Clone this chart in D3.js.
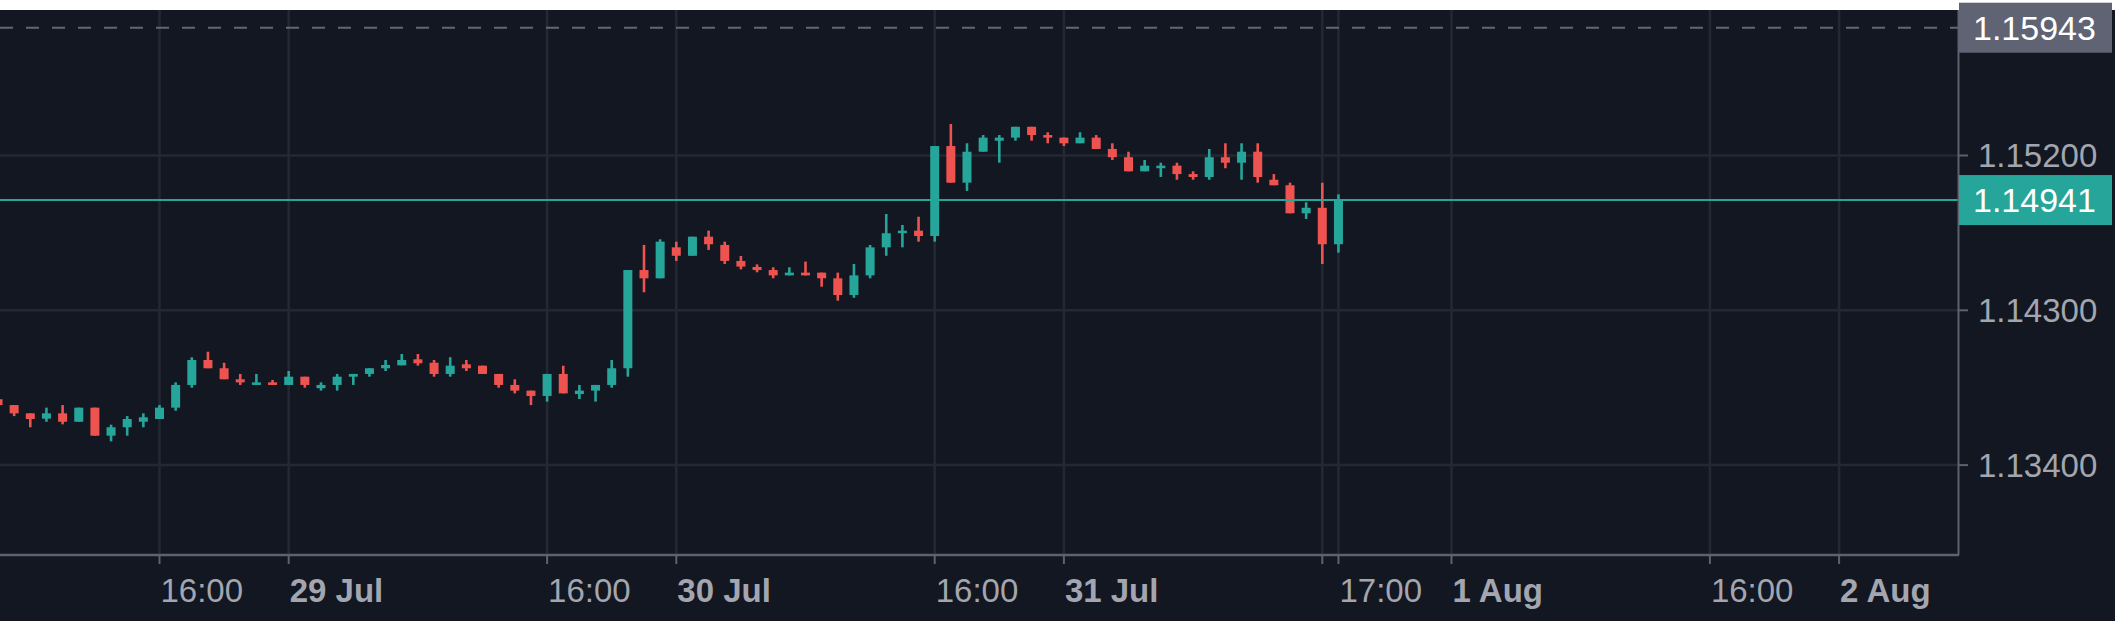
<!DOCTYPE html>
<html><head><meta charset="utf-8">
<script src="https://cdn.jsdelivr.net/npm/d3@7"></script>
<style>html,body{margin:0;padding:0;background:#ffffff;overflow:hidden}</style>
</head><body><svg id="c" width="2115" height="621"></svg>
<script>
// ---- data: EUR-like hourly candles, 28 Jul 06:00 -> 31 Jul 17:00 ----
const startTime = "2021-07-28T06:00";
const open = [
1.13783,1.13749,1.13701,1.13670,1.13701,1.13652,1.13734,1.13571,1.13620,1.13652,1.13668,1.13734,1.13866,1.14011,1.13963,1.13899,1.13866,1.13881,
1.13866,1.13914,1.13847,1.13866,1.13914,1.13930,1.13963,1.13980,1.14015,1.13995,1.13930,1.13986,1.13978,1.13930,1.13866,1.13833,1.13802,1.13930,1.13813,1.13833,1.13866,1.13963,1.14534,1.14486,
1.14666,1.14617,1.14728,1.14680,1.14587,1.14552,1.14534,1.14503,1.14519,1.14519,1.14486,1.14389,1.14503,1.14666,1.14748,1.14763,1.14732,1.15255,1.15042,1.15222,1.15286,1.15304,1.15367,1.15319,
1.15304,1.15271,1.15304,1.15238,1.15190,1.15108,1.15126,1.15141,1.15092,1.15075,1.15190,1.15158,1.15222,1.15059,1.15027,1.14864,1.14896,1.14684];
const high = [
1.13787,1.13749,1.13701,1.13734,1.13749,1.13734,1.13734,1.13635,1.13685,1.13701,1.13749,1.13881,1.14027,1.14059,1.13995,1.13930,1.13930,1.13895,
1.13947,1.13914,1.13881,1.13930,1.13930,1.13963,1.14011,1.14046,1.14046,1.14011,1.14027,1.14011,1.13978,1.13930,1.13899,1.13833,1.13930,1.13978,1.13866,1.13866,1.14011,1.14534,1.14680,1.14713,
1.14699,1.14728,1.14763,1.14699,1.14616,1.14567,1.14550,1.14550,1.14583,1.14519,1.14519,1.14569,1.14680,1.14860,1.14796,1.14844,1.15255,1.15383,1.15271,1.15319,1.15319,1.15367,1.15367,1.15335,
1.15304,1.15335,1.15319,1.15271,1.15222,1.15174,1.15158,1.15158,1.15108,1.15238,1.15271,1.15271,1.15271,1.15092,1.15042,1.14928,1.15042,1.14974];
const low = [
1.13744,1.13685,1.13620,1.13652,1.13637,1.13652,1.13571,1.13538,1.13571,1.13620,1.13668,1.13716,1.13850,1.13963,1.13899,1.13866,1.13866,1.13866,
1.13866,1.13850,1.13833,1.13833,1.13866,1.13914,1.13947,1.13980,1.13978,1.13914,1.13914,1.13947,1.13930,1.13850,1.13817,1.13749,1.13769,1.13817,1.13784,1.13769,1.13850,1.13914,1.14405,1.14486,
1.14587,1.14617,1.14651,1.14569,1.14538,1.14521,1.14486,1.14503,1.14503,1.14437,1.14356,1.14373,1.14486,1.14617,1.14666,1.14699,1.14699,1.15042,1.14994,1.15222,1.15158,1.15286,1.15286,1.15271,
1.15255,1.15271,1.15238,1.15174,1.15108,1.15108,1.15075,1.15059,1.15059,1.15059,1.15126,1.15059,1.15042,1.15027,1.14864,1.14831,1.14569,1.14635];
const close = [
1.13749,1.13701,1.13668,1.13701,1.13652,1.13734,1.13571,1.13620,1.13668,1.13678,1.13734,1.13866,1.14011,1.13963,1.13899,1.13881,1.13881,1.13866,
1.13914,1.13866,1.13866,1.13914,1.13930,1.13963,1.13982,1.14011,1.13992,1.13930,1.13978,1.13963,1.13930,1.13866,1.13833,1.13802,1.13930,1.13817,1.13833,1.13866,1.13963,1.14534,1.14486,1.14699,
1.14617,1.14728,1.14684,1.14587,1.14554,1.14534,1.14503,1.14519,1.14503,1.14486,1.14389,1.14503,1.14666,1.14748,1.14763,1.14732,1.15255,1.15042,1.15222,1.15304,1.15304,1.15367,1.15319,1.15304,
1.15271,1.15304,1.15238,1.15190,1.15108,1.15141,1.15141,1.15092,1.15075,1.15190,1.15158,1.15222,1.15075,1.15027,1.14864,1.14896,1.14684,1.14941];

const timeTicks = ["2021-07-28T16:00","2021-07-29T00:00","2021-07-29T16:00","2021-07-30T00:00","2021-07-30T16:00","2021-07-31T00:00","2021-07-31T16:00","2021-07-31T17:00","2021-08-01T00:00","2021-08-01T16:00","2021-08-02T00:00"];
const timeLabels = ["16:00","29 Jul","16:00","30 Jul","16:00","31 Jul","","17:00","1 Aug","16:00","2 Aug"];
const timeLabelBold = [false,true,false,true,false,true,false,false,true,false,true];
const priceTicks = [1.134, 1.143, 1.152];
const priceTickLabels = ["1.13400","1.14300","1.15200"];
const markPrice = 1.15943;
const markLabel = "1.15943";
const lastLabel = "1.14941";

// ---- layout ----
const W = 2115, H = 621;
const plotL = 0, plotR = 1958, plotT = 10, plotB = 555;
const parse = d3.timeParse("%Y-%m-%dT%H:%M");
const t0 = parse(startTime);
const times = open.map((_, i) => d3.timeHour.offset(t0, i));
const candles = times.map((t, i) => ({t, o: open[i], h: high[i], l: low[i], c: close[i]}));

const x = d3.scaleTime()
  .domain([parse("2021-07-29T00:00"), parse("2021-08-02T00:00")])
  .range([288.7, 1839.1]);
const y = d3.scaleLinear().domain([1.143, 1.152]).range([310.3, 155.5]);

const UP = "#26a69a", DOWN = "#ef5350", BG = "#131722", GRID = "#242832", AXIS = "#5d6170", TXT = "#a3a6af";
const FONT = "'Liberation Sans', Arial, sans-serif";

const svg = d3.select("#c");
svg.append("rect").attr("width", W).attr("height", H).attr("fill", BG);
svg.append("rect").attr("width", W).attr("height", plotT).attr("fill", "#ffffff");

const clip = svg.append("defs").append("clipPath").attr("id", "plotclip");
clip.append("rect").attr("x", plotL).attr("y", plotT).attr("width", plotR - plotL).attr("height", plotB - plotT);

const plot = svg.append("g").attr("clip-path", "url(#plotclip)");

// grid
plot.selectAll(".hg").data(priceTicks).join("line")
  .attr("x1", plotL).attr("x2", plotR)
  .attr("y1", d => y(d)).attr("y2", d => y(d))
  .attr("stroke", GRID).attr("stroke-width", 2.5);
plot.selectAll(".vg").data(timeTicks.map(parse)).join("line")
  .attr("x1", d => x(d)).attr("x2", d => x(d))
  .attr("y1", plotT).attr("y2", plotB)
  .attr("stroke", GRID).attr("stroke-width", 2.5);

// dashed mark line
plot.append("line")
  .attr("x1", plotL).attr("x2", plotR)
  .attr("y1", y(markPrice)).attr("y2", y(markPrice))
  .attr("stroke", "#636775").attr("stroke-width", 2).attr("stroke-dasharray", "13,13");

// candles
const bw = 9;
const cg = plot.selectAll(".cd").data(candles).join("g");
cg.append("line")
  .attr("x1", d => x(d.t)).attr("x2", d => x(d.t))
  .attr("y1", d => y(d.h)).attr("y2", d => y(d.l))
  .attr("stroke", d => d.c >= d.o ? UP : DOWN).attr("stroke-width", 2.6);
cg.append("rect")
  .attr("x", d => x(d.t) - bw / 2)
  .attr("y", d => y(Math.max(d.o, d.c)))
  .attr("width", bw)
  .attr("height", d => Math.max(2.5, Math.abs(y(d.o) - y(d.c))))
  .attr("fill", d => d.c >= d.o ? UP : DOWN);

// last price line
const lastClose = close[close.length - 1];
plot.append("line")
  .attr("x1", plotL).attr("x2", plotR)
  .attr("y1", y(lastClose)).attr("y2", y(lastClose))
  .attr("stroke", UP).attr("stroke-width", 2);

// axes frame
svg.append("line").attr("x1", 0).attr("x2", plotR + 1).attr("y1", plotB).attr("y2", plotB)
  .attr("stroke", AXIS).attr("stroke-width", 2.5);
svg.append("line").attr("x1", plotR + 0.5).attr("x2", plotR + 0.5).attr("y1", plotT).attr("y2", plotB)
  .attr("stroke", AXIS).attr("stroke-width", 2);

// time axis ticks + labels
const tt = svg.selectAll(".tt").data(timeTicks.map((s, i) => ({t: parse(s), lab: timeLabels[i], b: timeLabelBold[i]}))).join("g");
tt.append("line").attr("x1", d => x(d.t)).attr("x2", d => x(d.t)).attr("y1", plotB).attr("y2", plotB + 9)
  .attr("stroke", AXIS).attr("stroke-width", 2);
tt.append("text").attr("x", d => x(d.t) + 1).attr("y", 602)
  .attr("font-family", FONT).attr("font-size", 33)
  .attr("font-weight", d => d.b ? "bold" : "normal")
  .attr("fill", TXT).text(d => d.lab);

// price axis ticks + labels
const pt = svg.selectAll(".pt").data(priceTicks.map((p, i) => ({p, lab: priceTickLabels[i]}))).join("g");
pt.append("line").attr("x1", plotR + 1).attr("x2", plotR + 10).attr("y1", d => y(d.p)).attr("y2", d => y(d.p))
  .attr("stroke", AXIS).attr("stroke-width", 2);
pt.append("text").attr("x", 1978).attr("y", d => y(d.p)).attr("dy", "0.36em")
  .attr("font-family", FONT).attr("font-size", 33).attr("fill", TXT).text(d => d.lab);

// price label boxes
function priceBox(p, lab, fill) {
  const yc = y(p);
  svg.append("rect").attr("x", plotR + 1).attr("y", yc - 25).attr("width", 2112 - plotR - 1).attr("height", 50).attr("fill", fill);
  svg.append("text").attr("x", 1973).attr("y", yc).attr("dy", "0.36em")
    .attr("font-family", FONT).attr("font-size", 34).attr("fill", "#ffffff").text(lab);
}
priceBox(markPrice, markLabel, "#5f6373");
priceBox(lastClose, lastLabel, UP);
</script>
</body></html>
